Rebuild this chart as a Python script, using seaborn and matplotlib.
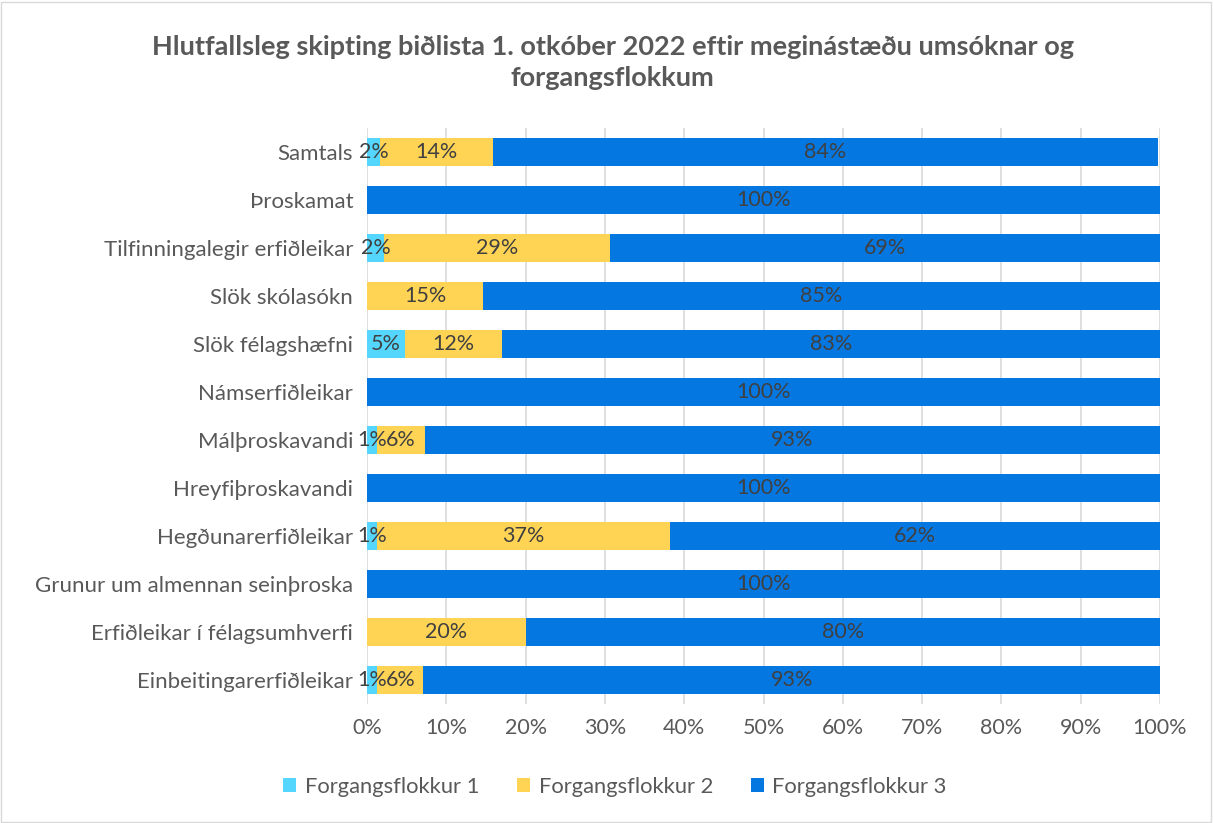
import matplotlib.pyplot as plt
import seaborn as sns
import numpy as np
import pandas as pd

categories = ['Samtals', 'Þroskamat', 'Tilfinningalegir erfiðleikar', 'Slök skólasókn',
              'Slök félagshæfni', 'Námserfiðleikar', 'Málþroskavandi', 'Hreyfiþroskavandi',
              'Hegðunarerfiðleikar', 'Grunur um almennan seinþroska',
              'Erfiðleikar í félagsumhverfi', 'Einbeitingarerfiðleikar']
flokkur1 = [1.6, 0, 2.1, 0, 4.8, 0, 1.3, 0, 1.2, 0, 0, 1.3]
flokkur2 = [14.3, 0, 28.6, 14.6, 12.2, 0, 6.0, 0, 37.0, 0, 20.0, 5.8]
flokkur3 = [83.8, 100, 69.3, 85.4, 83.0, 100, 92.7, 100, 61.8, 100, 80.0, 92.9]
series_names = ['Forgangsflokkur 1', 'Forgangsflokkur 2', 'Forgangsflokkur 3']
colors = ['#55D6FE', '#FFD454', '#0577E1']

sns.set_theme(style='white')
plt.rcParams['font.family'] = ['Lato', 'DejaVu Sans']

df = pd.DataFrame({'cat': categories, 'f1': flokkur1, 'f2': flokkur2, 'f3': flokkur3})
df['c1'] = df['f1']
df['c2'] = df['f1'] + df['f2']
df['c3'] = df['c2'] + df['f3']

fig = plt.figure(figsize=(12.13, 8.23), dpi=100)
ax = fig.add_axes([0.3026, 0.1446, 0.6537, 0.6999])

# stacked by overlaying cumulative totals
for col, color, name in zip(['c3', 'c2', 'c1'], colors[::-1], series_names[::-1]):
    sns.barplot(data=df, x=col, y='cat', order=categories, color=color, width=0.58,
                ax=ax, label=name, saturation=1, edgecolor='none')

# data labels centred in segments
text_color = '#404040'
for i, row in df.iterrows():
    left = 0
    for v in [row['f1'], row['f2'], row['f3']]:
        if v > 0:
            ax.text(left + v / 2, i, f'{round(v)}%', ha='center', va='center',
                    fontsize=15.5, color=text_color)
        left += v

ax.set_xlim(0, 100)
ax.set_xticks(np.arange(0, 101, 10))
ax.set_xticklabels([f'{t}%' for t in range(0, 101, 10)], fontsize=15.5, color='#595959')
ax.tick_params(axis='y', labelsize=16, labelcolor='#595959', length=0, pad=10)
ax.tick_params(axis='x', length=0, pad=10)
ax.set_xlabel('')
ax.set_ylabel('')
ax.grid(axis='x', color='#D9D9D9', linewidth=1.2)
ax.set_axisbelow(True)
for s in ax.spines.values():
    s.set_visible(False)

handles, labels = ax.get_legend_handles_labels()
order = [labels.index(n) for n in series_names]
fig.legend([handles[k] for k in order], series_names, loc='center', bbox_to_anchor=(0.507, 0.044),
           ncol=3, frameon=False, fontsize=15.8, handlelength=0.6, handleheight=0.6,
           columnspacing=1.7, handletextpad=0.4, labelcolor='#595959')
if ax.get_legend():
    ax.get_legend().remove()

fig.text(0.505, 0.924, 'Hlutfallsleg skipting biðlista 1. otkóber 2022 eftir meginástæðu umsóknar og\nforgangsflokkum',
         ha='center', va='center', fontsize=19.5, fontweight='bold', color='#595959', linespacing=1.35)

fig.patches.append(plt.Rectangle((0.001, 0.001), 0.997, 0.997, transform=fig.transFigure,
                                 fill=False, edgecolor='#D9D9D9', linewidth=1))

plt.savefig('out.png', dpi=100)
